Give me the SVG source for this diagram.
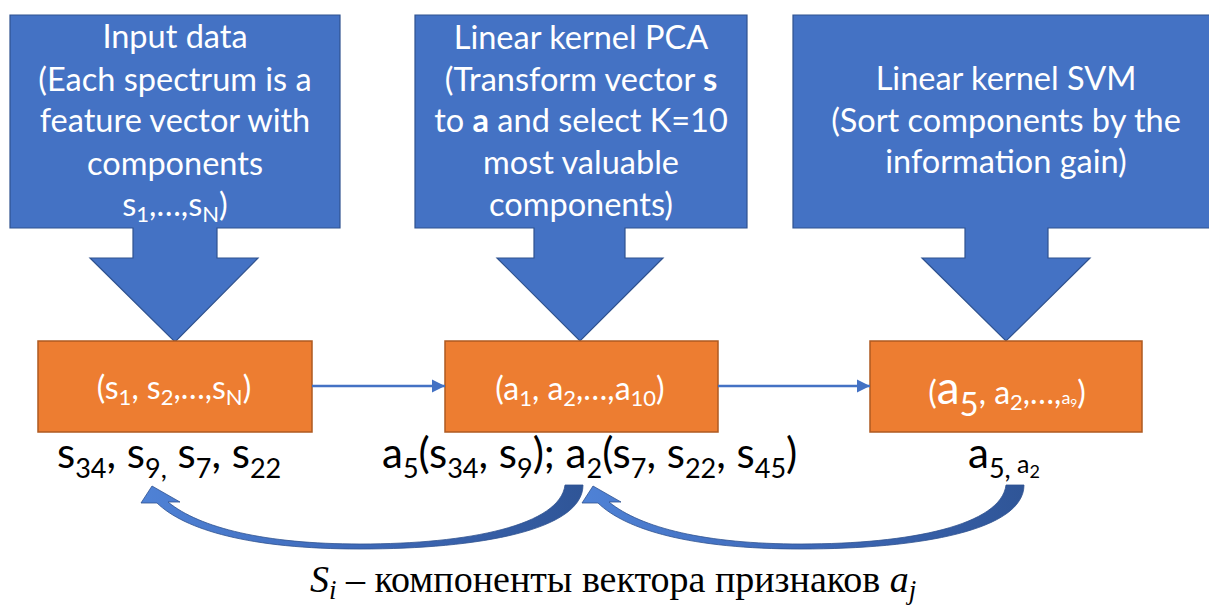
<svg xmlns="http://www.w3.org/2000/svg" width="1209" height="610" viewBox="0 0 1209 610">
  <defs>
    <style>
      .callout{fill:#4472C4;stroke:#2F528F;stroke-width:1.2}
      .box{fill:#ED7D31;stroke:#AE5A21;stroke-width:1.5}
      .ct{font-family:Lato,"Open Sans",sans-serif;font-size:32.5px;fill:#fff;text-anchor:middle}
      .bt{font-family:Lato,"Open Sans",sans-serif;fill:#fff;text-anchor:middle}
      .lbl{font-family:Lato,"Open Sans",sans-serif;font-size:42px;fill:#000}
      .sub{font-size:27px}
      .link{stroke:#4472C4;stroke-width:2.5;fill:none}
      .bend{fill:url(#bendFill);stroke:#2F528F;stroke-width:0.8}
      .cap{font-family:"Liberation Serif","Times New Roman",serif;font-size:38px;fill:#000}
      .it{font-style:italic}
    </style>
    <marker id="ah" markerUnits="userSpaceOnUse" markerWidth="14" markerHeight="14" refX="13" refY="7" orient="auto">
      <path d="M0,0.5 L13,7 L0,13.5 Z" fill="#4472C4"/>
    </marker>
    <linearGradient id="bendFill" x1="0" y1="0" x2="1" y2="0">
      <stop offset="0" stop-color="#4F82D6"/>
      <stop offset="0.5" stop-color="#3E69B8"/>
      <stop offset="1" stop-color="#2F5597"/>
    </linearGradient>
  </defs>

  <!-- step callouts -->
  <g id="callout-input">
    <path class="callout" d="M10,15 H340 V228 H217 V258 H258 L175,342 L90,258 H133 V228 H10 Z"/>
    <text class="ct" x="175" y="48">Input data</text>
    <text class="ct" x="175" y="91">(Each spectrum is a</text>
    <text class="ct" x="175" y="132">feature vector with</text>
    <text class="ct" x="175" y="175">components</text>
    <text class="ct" x="175" y="216">s<tspan font-size="22" dy="6">1</tspan><tspan dy="-6">,…,s</tspan><tspan font-size="22" dy="6">N</tspan><tspan dy="-6">)</tspan></text>
  </g>

  <g id="callout-pca">
    <path class="callout" d="M415,15 H747 V228 H625 V258 H663 L580,341 L497,258 H534 V228 H415 Z"/>
    <text class="ct" x="581" y="49">Linear kernel PCA</text>
    <text class="ct" x="581" y="91">(Transform vector <tspan font-weight="bold">s</tspan></text>
    <text class="ct" x="581" y="132">to <tspan font-weight="bold">a</tspan> and select K=10</text>
    <text class="ct" x="581" y="174">most valuable</text>
    <text class="ct" x="581" y="216">components)</text>
  </g>

  <g id="callout-svm">
    <path class="callout" d="M793,15 H1222 V228 H1048 V258 H1090 L1006,341 L922,258 H965 V228 H793 Z"/>
    <text class="ct" x="1006" y="90">Linear kernel SVM</text>
    <text class="ct" x="1006" y="132">(Sort components by the</text>
    <text class="ct" x="1006" y="173">information gain)</text>
  </g>

  <!-- vectors -->
  <g id="vec-s">
    <rect class="box" x="38" y="341" width="274" height="91"/>
    <text class="bt" x="174" y="399" style="font-size:32px">(s<tspan font-size="22" dy="6">1</tspan><tspan dy="-6">, s</tspan><tspan font-size="22" dy="6">2</tspan><tspan dy="-6">,…,s</tspan><tspan font-size="22" dy="6">N</tspan><tspan dy="-6">)</tspan></text>
  </g>

  <g id="vec-a">
    <rect class="box" x="445" y="341" width="273" height="91"/>
    <text class="bt" x="580" y="400" style="font-size:32px">(a<tspan font-size="22" dy="6">1</tspan><tspan dy="-6">, a</tspan><tspan font-size="22" dy="6">2</tspan><tspan dy="-6">,…,a</tspan><tspan font-size="22" dy="6">10</tspan><tspan dy="-6">)</tspan></text>
  </g>

  <g id="vec-sorted">
    <rect class="box" x="870" y="341" width="272" height="91"/>
    <text class="bt" x="1007" y="404" style="font-size:32px">(<tspan font-size="46">a</tspan><tspan font-size="33" dy="12">5</tspan><tspan dy="-12">, a</tspan><tspan font-size="22" dy="6">2</tspan><tspan dy="-6">,…,</tspan><tspan font-size="18">a</tspan><tspan font-size="12" dy="3">9</tspan><tspan dy="-3">)</tspan></text>
  </g>

  <!-- component labels -->
  <g id="label-s">
    <text class="lbl" x="57" y="468">s<tspan class="sub" dy="10">34</tspan><tspan dy="-10">, s</tspan><tspan class="sub" dy="10">9,</tspan><tspan dy="-10"> s</tspan><tspan class="sub" dy="10">7</tspan><tspan dy="-10">, s</tspan><tspan class="sub" dy="10">22</tspan></text>
  </g>
  <g id="label-a">
    <text class="lbl" x="382" y="468">a<tspan class="sub" dy="10">5</tspan><tspan dy="-10">(s</tspan><tspan class="sub" dy="10">34</tspan><tspan dy="-10">, s</tspan><tspan class="sub" dy="10">9</tspan><tspan dy="-10">); a</tspan><tspan class="sub" dy="10">2</tspan><tspan dy="-10">(s</tspan><tspan class="sub" dy="10">7</tspan><tspan dy="-10">, s</tspan><tspan class="sub" dy="10">22</tspan><tspan dy="-10">, s</tspan><tspan class="sub" dy="10">45</tspan><tspan dy="-10">)</tspan></text>
  </g>
  <g id="label-sorted">
    <text class="lbl" x="968" y="468">a<tspan class="sub" dy="10">5,</tspan><tspan font-size="25" dy="-5"> a</tspan><tspan font-size="18" dy="5">2</tspan></text>
  </g>

  <!-- connectors -->
  <g id="connectors">
    <line class="link" x1="312" y1="386" x2="445" y2="386" marker-end="url(#ah)"/>
    <line class="link" x1="718" y1="386" x2="870" y2="386" marker-end="url(#ah)"/>
    <path class="bend" d="M141,503 L152,486 L180,502 L168,502 C200,528 265,544 360,544 C470,544 560,525 565,485 L583,485 C583,530 480,549 360,549 C250,549 185,530 157,503 Z"/>
    <path class="bend" transform="translate(441,0)" d="M141,503 L152,486 L180,502 L168,502 C200,528 265,544 360,544 C470,544 560,525 565,485 L583,485 C583,530 480,549 360,549 C250,549 185,530 157,503 Z"/>
  </g>

  <!-- caption -->
  <g id="caption">
    <text class="cap" x="310" y="592"><tspan class="it">S</tspan><tspan class="it" font-size="27" dy="7">i</tspan><tspan dy="-7"> – компоненты вектора признаков </tspan><tspan class="it">a</tspan><tspan class="it" font-size="27" dy="7">j</tspan></text>
  </g>
</svg>
